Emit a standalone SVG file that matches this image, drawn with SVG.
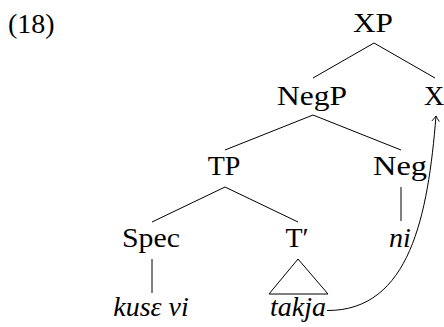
<svg xmlns="http://www.w3.org/2000/svg" width="444" height="327" viewBox="0 0 444 327">
  <style>
    text { font-family: 'Liberation Serif', 'Tinos', 'Times New Roman', Times, serif; font-size: 28px; fill: #000; text-anchor: middle; }
    .it { font-style: italic; }
    .edge { stroke: #000; stroke-width: 1; fill: none; }
  </style>
  <defs>
    <marker id="tip" viewBox="-6 -5 8 10" markerWidth="8" markerHeight="10" refX="0" refY="0" orient="auto" markerUnits="userSpaceOnUse">
      <path d="M -5 -3.5 Q -1.5 -0.8 0 0 Q -1.5 0.8 -5 3.5" fill="none" stroke="#000" stroke-width="0.9" stroke-linecap="round"/>
    </marker>
  </defs>

  <g font-family="'Liberation Serif', serif">
  <text x="8" y="33" style="text-anchor:start">(18)</text>

  <g id="XP"><text x="373" y="32" textLength="40" lengthAdjust="spacingAndGlyphs">XP</text></g>
  <g id="NegP"><text x="312" y="105" textLength="70" lengthAdjust="spacingAndGlyphs">NegP</text></g>
  <g id="X"><text x="434" y="105">X</text></g>
  <g id="TP"><text x="224" y="175">TP</text></g>
  <g id="Neg"><text x="400" y="175" textLength="54" lengthAdjust="spacingAndGlyphs">Neg</text></g>
  <g id="Spec"><text x="151" y="247" textLength="58" lengthAdjust="spacingAndGlyphs">Spec</text></g>
  <g id="Tbar"><text x="297" y="247">T′</text></g>
  <g id="ni"><text class="it" x="400" y="247">ni</text></g>
  <g id="kuse-vi"><text class="it" x="151" y="316">kusε vi</text></g>
  <g id="takja">
    <polygon class="edge" points="298,259 269,294 328,294"/>
    <text class="it" x="298" y="316">takja</text>
  </g>
  </g>

  <g id="connectors">
    <line class="edge" x1="374" y1="43" x2="313" y2="78"/>
    <line class="edge" x1="374" y1="43" x2="435" y2="78"/>
    <line class="edge" x1="313" y1="115" x2="225" y2="150"/>
    <line class="edge" x1="313" y1="115" x2="401" y2="150"/>
    <line class="edge" x1="225" y1="187" x2="152" y2="222"/>
    <line class="edge" x1="225" y1="187" x2="298" y2="222"/>
    <line class="edge" x1="401" y1="187" x2="401" y2="221"/>
    <line class="edge" x1="152" y1="259" x2="152" y2="293"/>
    <path class="edge" d="M 327 310.5 C 410 311 428 215 436 116" marker-end="url(#tip)"/>
  </g>
</svg>
